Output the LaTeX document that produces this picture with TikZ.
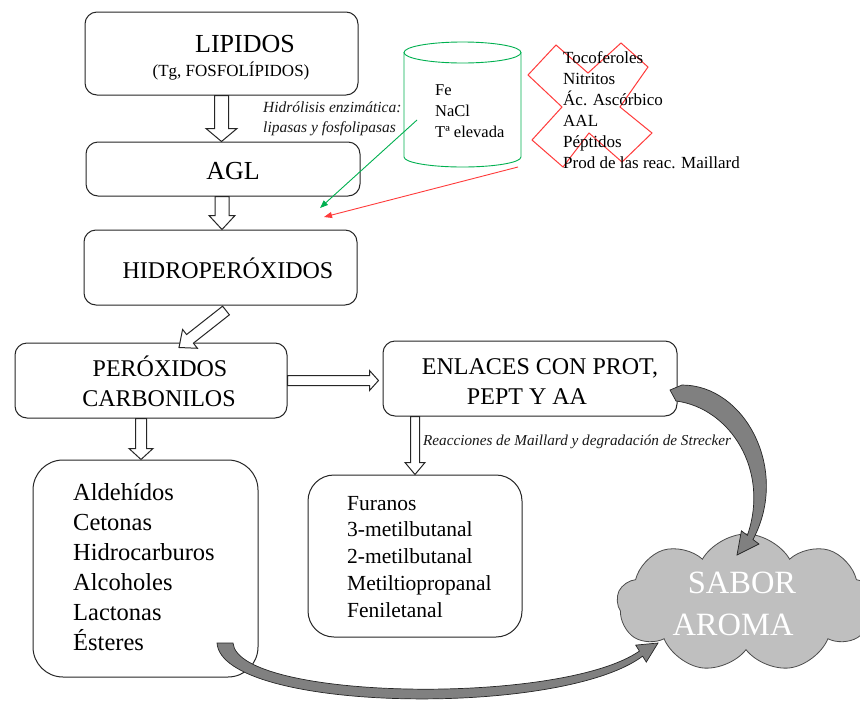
\documentclass[tikz,border=0pt]{standalone}
\usepackage{fontspec}
\setmainfont{Liberation Serif}
\usetikzlibrary{calc,shapes.symbols,arrows.meta}
\definecolor{okgreen}{HTML}{00B050}
\definecolor{okred}{HTML}{FF3B3B}
\newcommand{\blockarr}[5]{%
  \coordinate (ba-h) at ($(#2)!#5!(#1)$);
  \draw[blockarrow] ($(#1)!#3!90:(#2)$) -- ($(ba-h)!#3!90:(#2)$) -- ($(ba-h)!#4!90:(#2)$) -- (#2)
    -- ($(ba-h)!#4!-90:(#2)$) -- ($(ba-h)!#3!-90:(#2)$) -- ($(#1)!#3!-90:(#2)$) -- cycle;}
\tikzset{
  box/.style={draw=black!85, line width=1pt, fill=white, rounded corners=12pt, inner sep=0pt},
  ttl/.style={font=\fontsize{24}{28}\selectfont, inner sep=0pt, anchor=base, text=black},
  lst/.style={font=\fontsize{24.5}{30}\selectfont, inner sep=0pt, anchor=base west, text=black},
  furl/.style={font=\fontsize{21.5}{26}\selectfont, inner sep=0pt, anchor=base west, text=black},
  small/.style={font=\fontsize{16.5}{20}\selectfont, inner sep=0pt, anchor=base west, text=black},
  note/.style={font=\fontsize{15.5}{18}\selectfont\itshape, inner sep=0pt, anchor=base west, text=black!90},
  blockarrow/.style={draw=black!85, line width=1pt, fill=white, line join=miter},
  grayarrow/.style={draw=black!85, line width=0.7pt, fill=black!50},
  thinarrow/.style={line width=0.9pt, -{Triangle[length=8pt,width=6pt]}},
  cloudtxt/.style={font=\fontsize{32.5}{36}\selectfont, inner sep=0pt, anchor=base, text=white}
}
\begin{document}
\begin{tikzpicture}[x=1pt,y=-1pt]
\useasboundingbox (0,0) rectangle (860,702);
\clip (0,0) rectangle (860,702);
\fill[white] (0,0) rectangle (860,702);

% boxes
\node[box, minimum width=273, minimum height=83] (lip) at (221.5,53.5) {};
\node[box, minimum width=274, minimum height=54] (agl) at (223,169) {};
\node[box, minimum width=273, minimum height=75] (hid) at (220.5,267.5) {};
\node[box, minimum width=272, minimum height=75] (per) at (151,380.5) {};
\node[box, minimum width=294, minimum height=75] (enl) at (530,378.5) {};
\node[box, rounded corners=30pt, minimum width=225, minimum height=217] (ald) at (145.5,568.5) {};
\node[box, rounded corners=26pt, minimum width=214, minimum height=162] (fur) at (415,556) {};

% titles
\node[ttl, font=\fontsize{26}{30}\selectfont] (liptxt) at (245,52) {LIPIDOS};
\node[ttl, font=\fontsize{17}{20}\selectfont] (lipsub) at (231,76) {(Tg, FOSFOLÍPIDOS)};
\node[ttl, font=\fontsize{26}{30}\selectfont] (agltxt) at (233,179) {AGL};
\node[ttl] (hidtxt) at (228,278) {HIDROPERÓXIDOS};
\node[ttl] (pertxt1) at (160,376) {PERÓXIDOS};
\node[ttl] (pertxt2) at (159,406) {CARBONILOS};
\node[ttl] (enltxt1) at (540,374) {ENLACES CON PROT,};
\node[ttl] (enltxt2) at (527,404) {PEPT Y AA};

% lists
\foreach \t [count=\i] in {Aldehídos, Cetonas, Hidrocarburos, Alcoholes, Lactonas, Ésteres}
  \node[lst] (ald\i) at (73, {500+30*(\i-1)}) {\t};
\foreach \t [count=\i] in {Furanos, 3-metilbutanal, 2-metilbutanal, Metiltiopropanal, Feniletanal}
  \node[furl] (fur\i) at (347, {510+26.75*(\i-1)}) {\t};

% notes
\node[note] (hidro1) at (263,112) {Hidrólisis enzimática:};
\node[note] (hidro2) at (263,132) {lipasas y fosfolipasas};
\node[note, font=\fontsize{15.2}{18}\selectfont\itshape] (maill) at (423,445) {Reacciones de Maillard y degradación de Strecker};

% cylinder
\draw[okgreen, line width=0.9pt, fill=white] (404,52.5) -- (404,157)
  arc[start angle=180, end angle=0, x radius=58.5, y radius=10] -- (521,52.5);
\draw[okgreen, line width=0.9pt] (462.5,52.5) ellipse[x radius=58.5, y radius=10.5];
\foreach \t [count=\i] in {Fe, NaCl, Tª elevada}
  \node[small] (cyl\i) at (435, {95+21*(\i-1)}) {\t};

% red cross
\draw[okred, line width=1pt, line join=miter] (528,75) -- (556,45) -- (588,73) -- (621,43) -- (648,67)
  -- (620,107) -- (652,133) -- (622,162) -- (589,133) -- (563,167) -- (532,140) -- (562,107) -- cycle;
\foreach \t [count=\i] in {Tocoferoles, Nitritos, Ác. Ascórbico, AAL, Péptidos, Prod de las reac. Maillard}
  \node[small, font=\fontsize{17}{20}\selectfont] (anti\i) at (563, {63+21*(\i-1)}) {\t};

% thin arrows
\coordinate (gs) at (417,120);
\coordinate (gt) at (320,208);
\coordinate (rs) at (518,167);
\coordinate (rt) at (324,217);
\draw[thinarrow, okgreen] (gs) -- (gt);
\draw[thinarrow, okred] (rs) -- (rt);

% block arrows
\blockarr{lip.south}{lip.south |- agl.north}{7pt}{15.5pt}{13pt}
\coordinate (a2s) at ($(agl.south)+(-1,0)$);
\blockarr{a2s}{a2s |- hid.north}{7pt}{13pt}{14pt}
\coordinate (a3s) at ($(hid.south)+(5.5,5)$);
\coordinate (a3e) at ($(per.north)+(28,5)$);
\blockarr{a3s}{a3e}{5.5pt}{12pt}{14pt}
\coordinate (a4e) at ($(enl.west)+(-4,2)$);
\blockarr{per.east}{per.east -| a4e}{5pt}{10pt}{9pt}
\coordinate (a5s) at ($(per.south)+(-10,0)$);
\blockarr{a5s}{a5s |- ald.north}{5.5pt}{12pt}{11pt}
\coordinate (a6s) at ($(enl.south)+(-115,0)$);
\blockarr{a6s}{a6s |- fur.north}{4.5pt}{10pt}{12pt}

% cloud
\node[cloud, cloud puffs=9, cloud puff arc=120, aspect=1.9, draw=black!70, line width=0.8pt,
  fill=black!25, minimum width=258, minimum height=138, inner sep=0pt] (cloud) at (746,603) {};
\node[cloudtxt] (sabor) at (742,593) {SABOR};
\node[cloudtxt] (aroma) at (733,635) {AROMA};

% curved gray arrows
\draw[grayarrow] (682,385) .. controls (745,385) and (790,470) .. (753,539.5) -- (759,544) -- (737,555)
  -- (741.4,530.8) -- (747.4,535.3) .. controls (770,470) and (730,408) .. (676,401) -- (670,390) -- cycle;
\draw[grayarrow] (217,643) .. controls (222,712) and (560,718) .. (642.6,656.2) -- (646.3,662.1) -- (658,643)
  -- (635.7,645.1) -- (639.4,651.1) .. controls (560,706) and (238,700) .. (233,643) -- cycle;
\end{tikzpicture}
\end{document}
